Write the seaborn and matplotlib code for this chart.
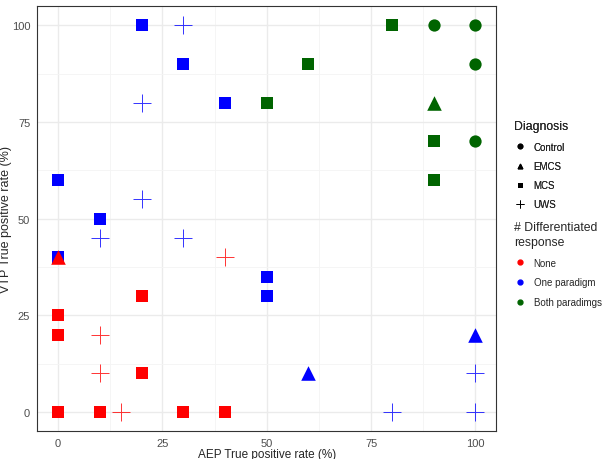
import pandas as pd
import seaborn as sns
import matplotlib.pyplot as plt
from matplotlib.lines import Line2D

# values
aep = [0, 0, 0, 0, 10, 10, 10, 15, 20, 20, 30, 40, 40,
       0, 0, 10, 10, 20, 20, 20, 30, 30, 30, 40, 50, 50, 60, 80, 100, 100, 100,
       50, 60, 80, 90, 100, 100, 90, 90, 100, 90]
vtp = [40, 25, 20, 0, 20, 10, 0, 0, 30, 10, 0, 40, 0,
       60, 40, 50, 45, 100, 80, 55, 100, 90, 45, 80, 35, 30, 10, 0, 20, 10, 0,
       80, 90, 100, 100, 100, 90, 80, 70, 70, 60]
diagnosis = ["EMCS", "MCS", "MCS", "MCS", "UWS", "UWS", "MCS", "UWS", "MCS", "MCS", "MCS", "UWS", "MCS",
             "MCS", "MCS", "MCS", "UWS", "MCS", "UWS", "UWS", "UWS", "MCS", "UWS", "MCS", "MCS", "MCS",
             "EMCS", "UWS", "EMCS", "UWS", "UWS",
             "MCS", "MCS", "MCS", "Control", "Control", "Control", "EMCS", "MCS", "Control", "MCS"]
response = ["None"] * 13 + ["One paradigm"] * 18 + ["Both paradimgs"] * 10

diag_levels = ["Control", "EMCS", "MCS", "UWS"]
resp_levels = ["None", "One paradigm", "Both paradimgs"]

df = pd.DataFrame({"aep": aep, "vtp": vtp, "diagnosis": diagnosis, "response": response})

pal = {"None": "#ff0000", "One paradigm": "#0000ff", "Both paradimgs": "#006400"}
markers = {"Control": "o", "EMCS": "^", "MCS": "s", "UWS": "+"}
sizes = {"Control": 78, "EMCS": 110, "MCS": 66, "UWS": 150}

sns.set_style("white")
plt.rcParams['font.family'] = ['Liberation Sans', 'DejaVu Sans']

fig = plt.figure(figsize=(6.09, 4.6), dpi=100)
ax = fig.add_axes([0.061, 0.06, 0.754, 0.925])

# squares first so the red triangle sits on top at (0, 40)
for d in ["MCS", "UWS", "EMCS", "Control"]:
    for r in resp_levels:
        sub = df[(df.diagnosis == d) & (df.response == r)]
        if sub.empty:
            continue
        if d == "UWS":
            sns.scatterplot(data=sub, x="aep", y="vtp", color=pal[r], edgecolor=pal[r],
                            marker="+", s=sizes[d], linewidth=0.7, alpha=0.8, ax=ax, zorder=3)
        else:
            sns.scatterplot(data=sub, x="aep", y="vtp", color=pal[r], marker=markers[d],
                            s=sizes[d], linewidth=0, ax=ax, zorder=3)

ax.set_xlim(-5, 105)
ax.set_ylim(-5, 105)
ax.set_xticks([0, 25, 50, 75, 100])
ax.set_yticks([0, 25, 50, 75, 100])
ax.set_xticks([12.5, 37.5, 62.5, 87.5], minor=True)
ax.set_yticks([12.5, 37.5, 62.5, 87.5], minor=True)
ax.grid(True, which="major", color="#ebebeb", linewidth=1.0, zorder=0)
ax.grid(True, which="minor", color="#f4f4f4", linewidth=0.6, zorder=0)
ax.set_axisbelow(True)
for sp in ax.spines.values():
    sp.set_color("#333333")
    sp.set_linewidth(0.8)
ax.tick_params(axis="both", which="major", length=3, width=0.6, color="#333333",
               labelsize=8, labelcolor="#4d4d4d", pad=2)
ax.tick_params(axis="x", which="major", pad=1.5)
ax.tick_params(axis="both", which="minor", length=0)
ax.set_xlabel("AEP True positive rate (%)", fontsize=8.5, labelpad=0.5)
ax.set_ylabel("VTP True positive rate (%)", fontsize=9, labelpad=0)

diag_handles = [Line2D([], [], linestyle="none", marker=markers[d], color="black",
                       markersize=3.5 if d != "UWS" else 6, markeredgewidth=0.7)
                for d in diag_levels]
leg1 = fig.legend(diag_handles, diag_levels, title="Diagnosis", loc="upper left",
                  bbox_to_anchor=(0.83, 0.755), frameon=False, fontsize=7,
                  title_fontsize=8.8, handletextpad=0.8, labelspacing=0.95,
                  handlelength=1.2, alignment="left")
resp_handles = [Line2D([], [], linestyle="none", marker="o", color=pal[r], markersize=3.5)
                for r in resp_levels]
leg2 = fig.legend(resp_handles, resp_levels, title="# Differentiated\nresponse",
                  loc="upper left", bbox_to_anchor=(0.83, 0.537), frameon=False,
                  fontsize=7, title_fontsize=8.8, handletextpad=0.8, labelspacing=1.0,
                  handlelength=1.2, alignment="left")
leg2.get_title().set_linespacing(1.35)
fig.add_artist(leg1)

fig.savefig("out.png", dpi=100)
